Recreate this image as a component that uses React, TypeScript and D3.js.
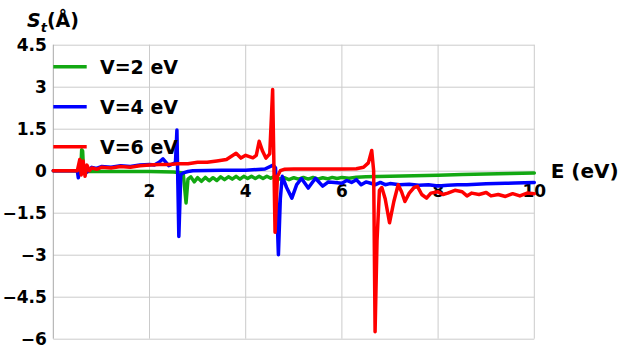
import React, { useRef, useEffect } from 'react'
import * as d3 from 'd3'

const W = 619
const H = 354

const xTicks = [2, 4, 6, 8, 10]
const yTicks = [-6, -4.5, -3, -1.5, 0, 1.5, 3, 4.5]

// V = 2 eV
const energyV2 = [
  0, 0.57, 0.59, 0.61, 0.63, 1.0, 1.5, 2.0, 2.5, 2.7, 2.73, 2.76, 2.8, 2.86, 2.93, 3.0, 3.08, 3.16,
  3.24, 3.32, 3.4, 3.48, 3.56, 3.64, 3.72, 3.8, 3.88, 3.96, 4.04, 4.12, 4.2, 4.28, 4.36, 4.44, 4.52,
  4.6, 4.7, 4.8, 4.9, 5.0, 5.1, 5.2, 5.3, 5.4, 5.5, 5.6, 5.7, 5.8, 5.9, 6.0, 6.15, 6.3, 6.5, 7.0,
  7.5, 8.0, 8.5, 9.0, 9.5, 10,
]
const stV2 = [
  0, 0, 0.75, 0.7, -0.03, -0.03, -0.03, -0.03, -0.05, -0.08, -0.6, -1.15, -0.3, -0.22, -0.4, -0.25,
  -0.38, -0.24, -0.36, -0.25, -0.35, -0.22, -0.32, -0.22, -0.3, -0.2, -0.3, -0.2, -0.28, -0.2, -0.28,
  -0.2, -0.28, -0.2, -0.27, -0.2, -0.3, -0.25, -0.32, -0.25, -0.3, -0.24, -0.3, -0.24, -0.3, -0.25,
  -0.29, -0.24, -0.28, -0.24, -0.27, -0.23, -0.22, -0.2, -0.18, -0.16, -0.14, -0.12, -0.1, -0.08,
]

// V = 4 eV
const energyV4 = [
  0, 0.5, 0.52, 0.55, 0.6, 0.7, 0.8, 0.9, 1.0, 1.2, 1.4, 1.6, 1.8, 2.0, 2.1, 2.2, 2.28, 2.4, 2.5,
  2.54, 2.57, 2.59, 2.61, 2.65, 2.7, 2.8, 2.9, 3.5, 4.0, 4.4, 4.57, 4.62, 4.65, 4.68, 4.72, 4.76,
  4.85, 4.96, 5.06, 5.16, 5.3, 5.45, 5.6, 5.72, 5.85, 6.0, 6.1, 6.2, 6.3, 6.4, 6.5, 6.6, 6.7, 6.8,
  6.9, 7.0, 7.2, 7.4, 7.6, 7.8, 8.0, 8.2, 8.4, 8.6, 8.8, 9.0, 9.2, 9.4, 9.6, 9.8, 10,
]
const stV4 = [
  0, 0, -0.25, 0.05, 0.1, -0.05, 0.12, 0.08, 0.15, 0.12, 0.18, 0.15, 0.2, 0.22, 0.2, 0.3, 0.42, 0.18,
  0.25, 0.3, 1.45, -0.5, -2.35, -0.15, -0.08, -0.03, 0, 0.02, 0.02, 0.06, 0.2, 0.1, -1.5, -3.0, -1.0,
  -0.2, -0.6, -0.98, -0.5, -0.28, -0.62, -0.27, -0.55, -0.4, -0.42, -0.45, -0.35, -0.42, -0.32, -0.5,
  -0.4, -0.45, -0.5, -0.42, -0.5, -0.46, -0.5, -0.48, -0.52, -0.5, -0.55, -0.52, -0.5, -0.5, -0.48,
  -0.47, -0.46, -0.45, -0.44, -0.43, -0.42,
]

// V = 6 eV
const energyV6 = [
  0, 0.5, 0.55, 0.58, 0.62, 0.66, 0.7, 0.75, 0.8, 0.9, 1.0, 1.2, 1.4, 1.6, 1.8, 2.0, 2.2, 2.4, 2.6,
  2.8, 3.0, 3.2, 3.4, 3.6, 3.8, 3.9, 4.0, 4.15, 4.22, 4.28, 4.35, 4.42, 4.5, 4.56, 4.61, 4.66, 4.72,
  4.8, 5.0, 5.5, 6.0, 6.3, 6.45, 6.55, 6.62, 6.66, 6.69, 6.73, 6.78, 6.83, 6.9, 6.99, 7.08, 7.17,
  7.24, 7.31, 7.4, 7.5, 7.57, 7.66, 7.76, 7.85, 8.0, 8.1, 8.2, 8.35, 8.5, 8.6, 8.7, 8.85, 9.0, 9.1,
  9.25, 9.4, 9.55, 9.7, 9.85, 10,
]
const stV6 = [
  0, 0, 0.4, -0.15, 0.35, -0.2, 0.2, 0.0, 0.1, 0.05, 0.12, 0.1, 0.15, 0.12, 0.18, 0.2, 0.22, 0.22,
  0.25, 0.25, 0.3, 0.3, 0.35, 0.4, 0.62, 0.45, 0.55, 0.46, 0.55, 1.05, 0.7, 0.45, 0.6, 2.9, -2.2,
  -0.2, 0.0, 0.05, 0.06, 0.06, 0.06, 0.07, 0.12, 0.28, 0.72, 0.0, -5.75, -2.5, -0.7, -0.6, -1.0,
  -1.86, -1.1, -0.5, -0.75, -1.1, -0.8, -0.6, -0.56, -0.85, -0.98, -0.8, -0.75, -0.85, -0.8, -0.7,
  -0.75, -0.9, -0.8, -0.85, -0.78, -0.9, -0.85, -0.92, -0.82, -0.9, -0.8, -0.82,
]

const legendLabels = ['V=2 eV', 'V=4 eV', 'V=6 eV']
const lineColors = ['#12a812', '#0000ff', '#ff0000']

const FONT = "'DejaVu Sans', sans-serif"

function App() {
  const svgRef = useRef<SVGSVGElement>(null)

  useEffect(() => {
    if (!svgRef.current) return
    const svg = d3.select(svgRef.current)
    svg.selectAll('*').remove()

    const x = d3.scaleLinear().domain([0, 10]).range([53.3, 534.3])
    const y = d3.scaleLinear().domain([-6, 4.5]).range([338.7, 44.7])

    // vertical grid
    svg
      .append('g')
      .selectAll('line')
      .data(xTicks)
      .join('line')
      .attr('x1', (d) => x(d))
      .attr('x2', (d) => x(d))
      .attr('y1', y(4.5))
      .attr('y2', y(-6))
      .attr('stroke', '#cbcbcb')

    // y axis + horizontal grid
    const gy = svg
      .append('g')
      .attr('transform', `translate(${x(0)},0)`)
      .call(
        d3
          .axisLeft(y)
          .tickValues(yTicks)
          .tickSize(-(x(10) - x(0)))
          .tickPadding(6.5)
          .tickFormat(d3.format('~g'))
      )
    gy.select('.domain').remove()
    gy.selectAll('.tick line').attr('stroke', '#cbcbcb')
    gy.selectAll('.tick text')
      .attr('font-family', FONT)
      .attr('font-weight', 'bold')
      .attr('font-size', 17)
      .attr('fill', '#000')
      .attr('dy', '0.36em')

    svg
      .append('line')
      .attr('x1', x(0))
      .attr('x2', x(0))
      .attr('y1', y(4.5))
      .attr('y2', y(-6))
      .attr('stroke', '#a8a8a8')

    // x tick labels sit under the zero line
    svg
      .append('g')
      .selectAll('text')
      .data(xTicks)
      .join('text')
      .attr('x', (d) => x(d))
      .attr('y', y(0) + 26.3)
      .attr('text-anchor', 'middle')
      .attr('font-family', FONT)
      .attr('font-weight', 'bold')
      .attr('font-size', 17)
      .text((d) => d)

    const series = [
      { e: energyV2, s: stV2 },
      { e: energyV4, s: stV4 },
      { e: energyV6, s: stV6 },
    ]

    const line = d3
      .line<number>()
      .x((d) => x(d))

    series.forEach((ser, k) => {
      svg
        .append('path')
        .attr('d', line.y((d, i) => y(ser.s[i]))(ser.e))
        .attr('fill', 'none')
        .attr('stroke', lineColors[k])
        .attr('stroke-width', 3.5)
        .attr('stroke-linejoin', 'round')
        .attr('stroke-linecap', 'round')
    })

    // legend
    const lg = svg
      .append('g')
      .selectAll('g')
      .data(legendLabels)
      .join('g')
      .attr('transform', (d, i) => `translate(0,${66.7 + i * 40})`)
    lg.append('line')
      .attr('x1', x(0))
      .attr('x2', 86.7)
      .attr('stroke', (d, i) => lineColors[i])
      .attr('stroke-width', 3.6)
    lg.append('text')
      .attr('x', 100)
      .attr('y', 6.9)
      .attr('font-family', FONT)
      .attr('font-weight', 'bold')
      .attr('font-size', 19)
      .text((d) => d)

    // axis titles
    const title = svg
      .append('text')
      .attr('x', 27)
      .attr('y', 27)
      .attr('font-family', FONT)
      .attr('font-weight', 'bold')
      .attr('font-size', 19)
    title.append('tspan').attr('font-style', 'italic').text('S')
    title
      .append('tspan')
      .attr('font-style', 'italic')
      .attr('font-size', 13)
      .attr('dy', 5)
      .text('t')
    title.append('tspan').attr('dy', -5).text('(Å)')

    svg
      .append('text')
      .attr('x', 550.7)
      .attr('y', 178.3)
      .attr('font-family', FONT)
      .attr('font-weight', 'bold')
      .attr('font-size', 20)
      .text('E (eV)')
  }, [])

  return (
    <svg
      ref={svgRef}
      width={W}
      height={H}
      style={{ position: 'absolute', left: 0, top: 0, background: '#fff' }}
    />
  )
}

export default App
